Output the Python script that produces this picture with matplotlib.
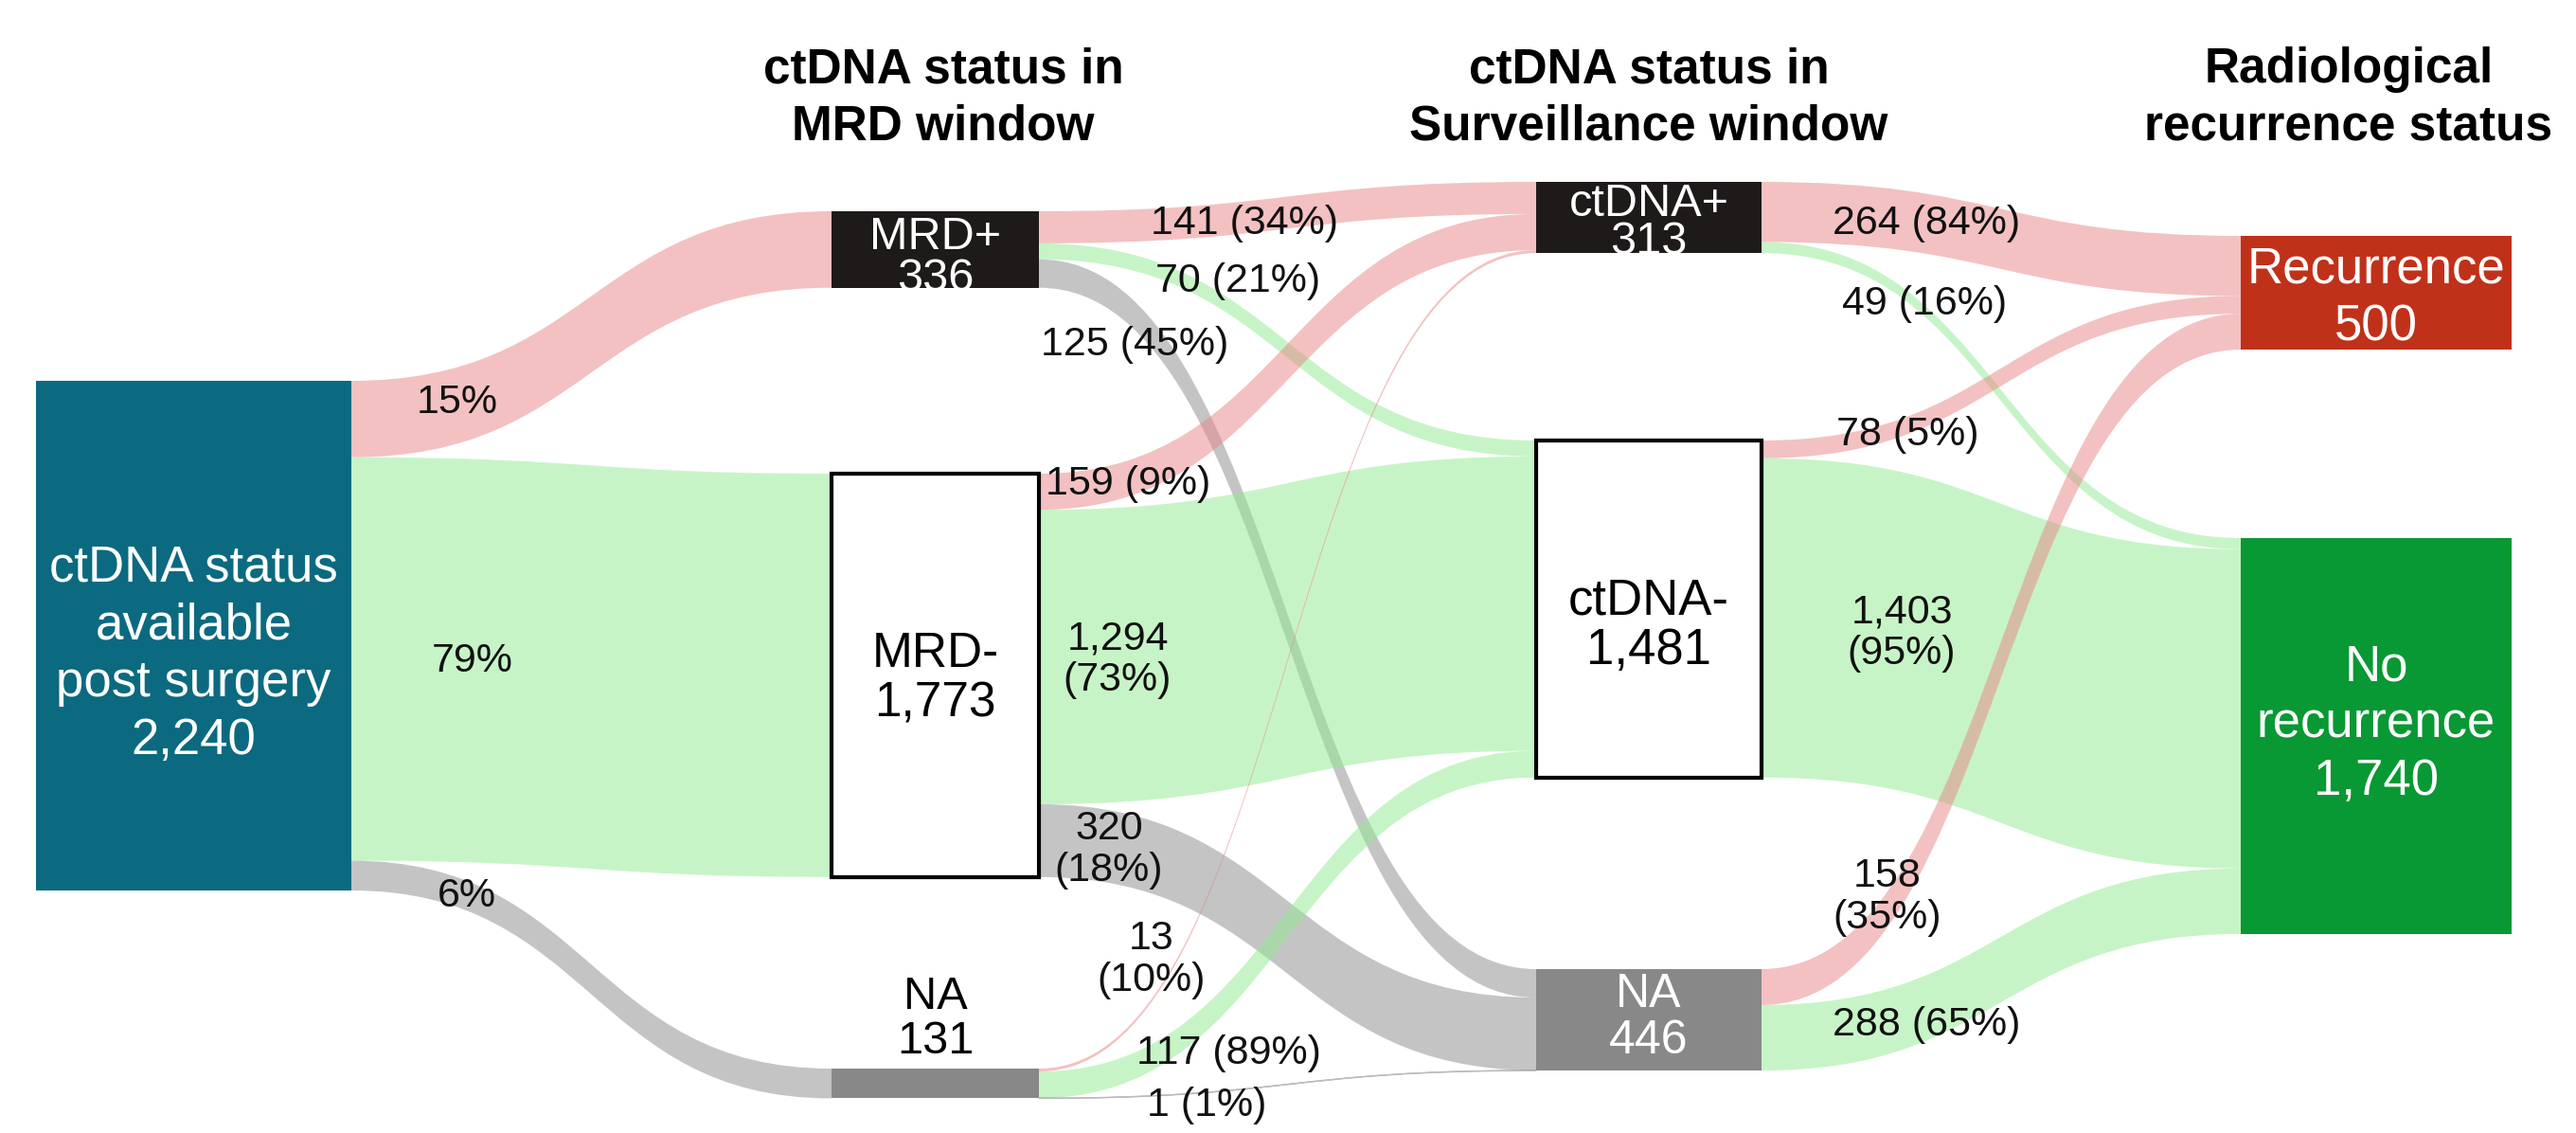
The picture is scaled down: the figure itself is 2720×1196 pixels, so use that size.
import matplotlib
matplotlib.use("Agg")
import matplotlib.pyplot as plt
from matplotlib.path import Path
from matplotlib.patches import PathPatch, Rectangle

plt.rcParams["font.family"] = ["Liberation Sans", "DejaVu Sans"]

# nodes
node_names = ["ctDNA status\navailable\npost surgery", "MRD+", "MRD-", "NA",
              "ctDNA+", "ctDNA-", "NA", "Recurrence", "No\nrecurrence"]
node_counts = [2240, 336, 1773, 131, 313, 1481, 446, 500, 1740]
node_kind = ["start", "pos", "neg", "na", "pos", "neg", "na", "rec", "norec"]

# links
link_source = [0, 0, 0, 1, 1, 1, 2, 2, 2, 3, 3, 3, 4, 4, 5, 5, 6, 6]
link_target = [1, 2, 3, 4, 5, 6, 4, 5, 6, 4, 5, 6, 7, 8, 7, 8, 7, 8]
link_values = [336, 1773, 131, 141, 70, 125, 159, 1294, 320, 13, 117, 1,
               264, 49, 78, 1403, 158, 288]
link_labels = ["15%", "79%", "6%", "141 (34%)", "70 (21%)", "125 (45%)",
               "159 (9%)", "1,294\n(73%)", "320\n(18%)", "13\n(10%)",
               "117 (89%)", "1 (1%)", "264 (84%)", "49 (16%)", "78 (5%)",
               "1,403\n(95%)", "158\n(35%)", "288 (65%)"]

headers = ["ctDNA status in\nMRD window", "ctDNA status in\nSurveillance window",
           "Radiological\nrecurrence status"]

# layout (pixel coordinates of the 2720x1196 canvas)
col_left = [38, 878, 1622, 2366]
col_width = [333, 219, 238, 286]
node_col = [0, 1, 1, 1, 2, 2, 2, 3, 3]
node_top = [402, 223, 500, 1128, 192, 465, 1023, 249, 568]
px_per_patient = 538 / 2240
node_font = [38, 35, 37, 35, 35, 38, 36, 38, 38]
node_spacing = [1.28, 0.96, 1.10, 1.07, 0.85, 1.05, 1.085, 1.27, 1.27]
node_label_dy = [20, 9, 4, 0, 6, 18, -2, 6, -12]
header_x = [996, 1741, 2480]
header_y = 104
label_pos = [(483, 425), (499, 698), (493, 946),
             (1314, 236), (1307, 297), (1198, 364),
             (1191, 511), (1180, 696), (1171, 897),
             (1216, 1013), (1297, 1112), (1274, 1167),
             (2034, 236), (2032, 321), (2014, 459),
             (2008, 668), (1993, 947), (2034, 1082)]

node_face = {"start": "#0b6a80", "pos": "#1e1a1a", "neg": "white", "na": "#888888",
             "rec": "#c0311a", "norec": "#089834"}
link_color = {"pos": (0.91, 0.52, 0.52, 0.5), "neg": (0.57, 0.92, 0.57, 0.5),
              "na": (0.54, 0.54, 0.54, 0.5), "rec": (0.91, 0.52, 0.52, 0.5),
              "norec": (0.57, 0.92, 0.57, 0.5)}

fig = plt.figure(figsize=(27.2, 11.96), dpi=100)
ax = fig.add_axes([0, 0, 1, 1])
ax.set_xlim(0, 2720)
ax.set_ylim(1196, 0)
ax.axis("off")

n = len(node_names)
heights = [c * px_per_patient for c in node_counts]
x0 = [col_left[node_col[i]] for i in range(n)]
x1 = [col_left[node_col[i]] + col_width[node_col[i]] for i in range(n)]

# stack links at each node
out_off = {}
in_off = {}
for i in range(n):
    outs = sorted([k for k in range(len(link_values)) if link_source[k] == i],
                  key=lambda k: node_top[link_target[k]])
    y = node_top[i]
    for k in outs:
        out_off[k] = y
        y += link_values[k] * px_per_patient
    ins = sorted([k for k in range(len(link_values)) if link_target[k] == i],
                 key=lambda k: node_top[link_source[k]])
    y = node_top[i]
    for k in ins:
        in_off[k] = y
        y += link_values[k] * px_per_patient

for k, v in enumerate(link_values):
    s, t = link_source[k], link_target[k]
    w = v * px_per_patient
    xa, xb = x1[s], x0[t]
    xm = (xa + xb) / 2
    ya, yb = out_off[k], in_off[k]
    verts = [(xa, ya), (xm, ya), (xm, yb), (xb, yb),
             (xb, yb + w), (xm, yb + w), (xm, ya + w), (xa, ya + w), (xa, ya)]
    codes = [Path.MOVETO, Path.CURVE4, Path.CURVE4, Path.CURVE4,
             Path.LINETO, Path.CURVE4, Path.CURVE4, Path.CURVE4, Path.CLOSEPOLY]
    col = link_color[node_kind[t]]
    # very thin links still get a visible hairline, as in the original
    thin = w < 2
    ax.add_patch(PathPatch(Path(verts, codes), facecolor=col,
                           edgecolor=col if thin else "none",
                           linewidth=1.0 if thin else 0, zorder=1))
    lx, ly = label_pos[k]
    ax.text(lx, ly, link_labels[k], ha="center", va="center", fontsize=31,
            linespacing=1.1, color="#111111", zorder=5)

for i in range(n):
    kind = node_kind[i]
    edge = "black" if kind == "neg" else "none"
    ax.add_patch(Rectangle((x0[i], node_top[i]), x1[i] - x0[i], heights[i],
                           facecolor=node_face[kind], edgecolor=edge,
                           linewidth=3, zorder=3))
    label = node_names[i] + "\n" + f"{node_counts[i]:,}"
    cx = (x0[i] + x1[i]) / 2
    if kind == "na" and heights[i] < 60:
        ax.text(cx, node_top[i] - 6, label, ha="center", va="bottom",
                fontsize=node_font[i], linespacing=node_spacing[i],
                color="black", zorder=5)
        continue
    cy = node_top[i] + heights[i] / 2 + node_label_dy[i]
    color = "black" if kind == "neg" else "white"
    ax.text(cx, cy, label, ha="center", va="center", fontsize=node_font[i],
            linespacing=node_spacing[i], color=color, zorder=5)

for j, h in enumerate(headers):
    ax.text(header_x[j], header_y, h, ha="center", va="center", fontsize=37,
            fontweight="bold", linespacing=1.3, color="black")

fig.savefig("out.png", dpi=100)
